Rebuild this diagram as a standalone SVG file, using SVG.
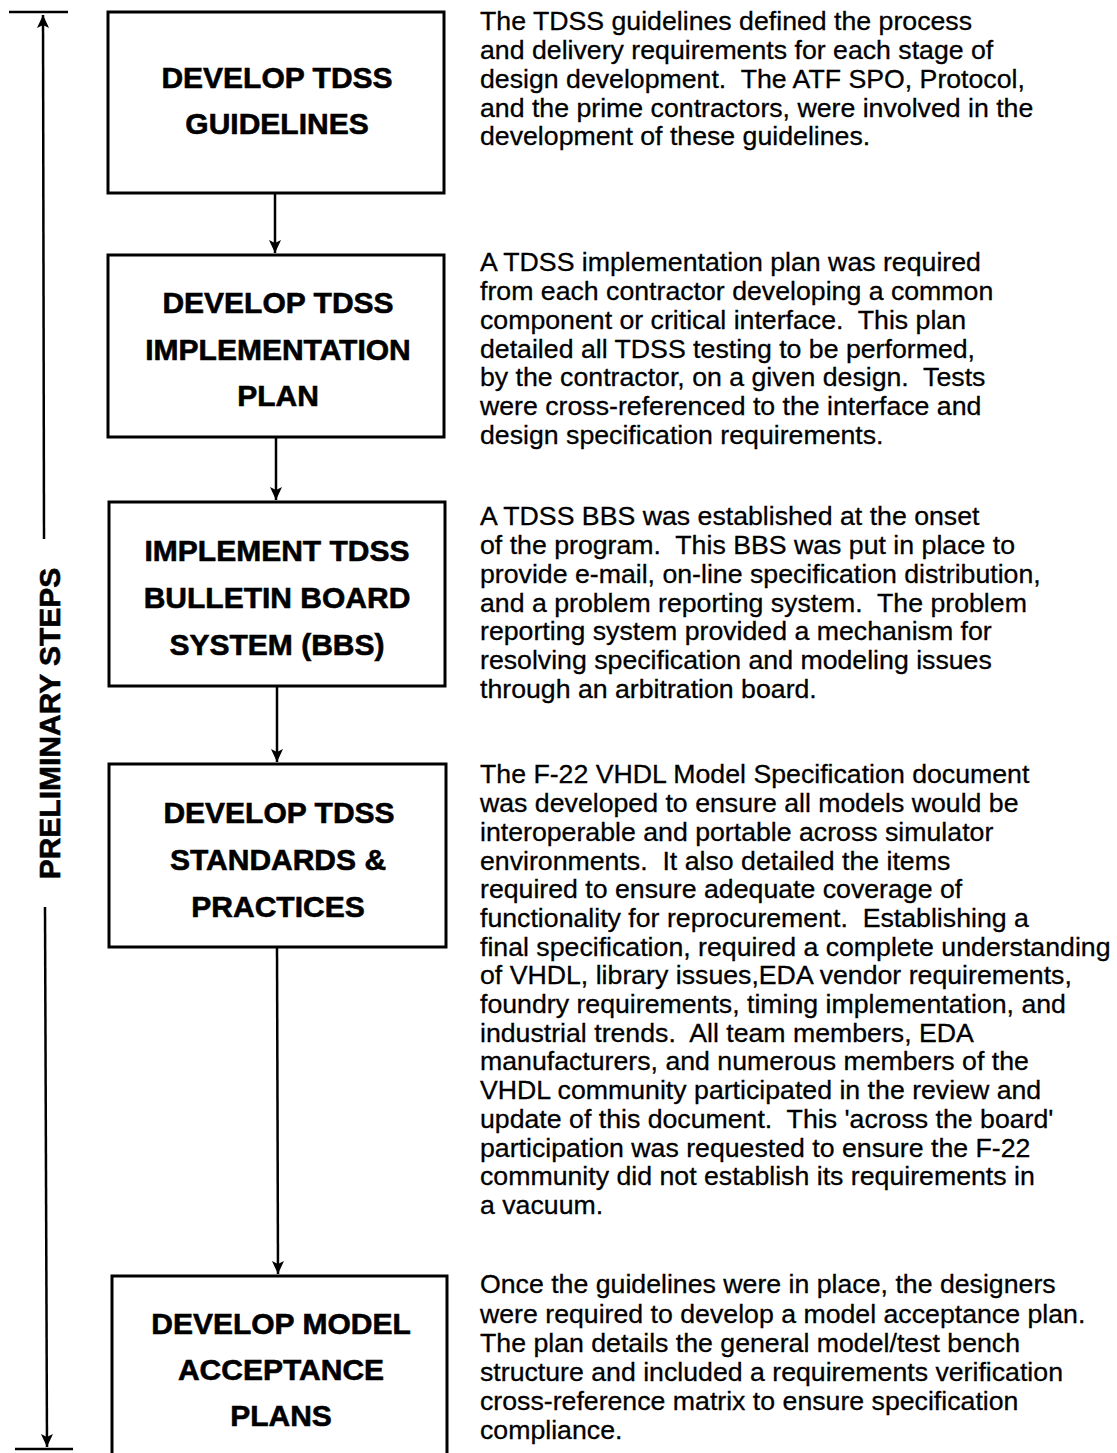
<svg xmlns="http://www.w3.org/2000/svg" width="1117" height="1453" viewBox="0 0 1117 1453">
<style>
.box{fill:#fff;stroke:#000;stroke-width:3}
.head{font-family:"Liberation Sans",Arial,sans-serif;font-weight:bold;font-size:30px;text-anchor:middle;fill:#000;stroke:#000;stroke-width:0.6}
.body{font-family:"Liberation Sans",Arial,sans-serif;font-size:26.7px;fill:#000;stroke:#000;stroke-width:0.3;white-space:pre}
.conn{stroke:#000;stroke-width:2.5;fill:none}
.label{font-family:"Liberation Sans",Arial,sans-serif;font-weight:bold;font-size:30px;text-anchor:middle;fill:#000;stroke:#000;stroke-width:0.6}
</style>
<defs>
<marker id="arr" markerUnits="userSpaceOnUse" markerWidth="14" markerHeight="14" viewBox="0 0 14 14" refX="13" refY="7" orient="auto">
<path d="M0,1 L13,7 L0,13 L3,7 Z" fill="#000"/>
</marker>
</defs>
<rect width="1117" height="1453" fill="#fff"/>

<g id="bracket">
<line x1="9" y1="12" x2="68" y2="12" class="conn" stroke-width="3"/>
<line x1="15" y1="1449" x2="73" y2="1449" class="conn" stroke-width="3"/>
<line x1="44" y1="539" x2="43" y2="15" class="conn" marker-end="url(#arr)"/>
<line x1="45" y1="907" x2="47" y2="1447" class="conn" marker-end="url(#arr)"/>
<text class="label" transform="translate(60,723.5) rotate(-90)">PRELIMINARY STEPS</text>
</g>

<g id="connectors">
<line x1="275" y1="193" x2="275" y2="253" class="conn" marker-end="url(#arr)"/>
<line x1="276" y1="437" x2="276" y2="500" class="conn" marker-end="url(#arr)"/>
<line x1="277" y1="686" x2="277" y2="762" class="conn" marker-end="url(#arr)"/>
<line x1="277" y1="947" x2="278" y2="1274" class="conn" marker-end="url(#arr)"/>
</g>

<g id="node1">
<rect class="box" x="108" y="12" width="336" height="181"/>
<text class="head" x="277" y="88">DEVELOP TDSS</text>
<text class="head" x="277" y="134">GUIDELINES</text>
</g>
<g id="node2">
<rect class="box" x="108" y="255" width="336" height="182"/>
<text class="head" x="278" y="313">DEVELOP TDSS</text>
<text class="head" x="278" y="360">IMPLEMENTATION</text>
<text class="head" x="278" y="406">PLAN</text>
</g>
<g id="node3">
<rect class="box" x="109" y="502" width="336" height="184"/>
<text class="head" x="277" y="561">IMPLEMENT TDSS</text>
<text class="head" x="277" y="608">BULLETIN BOARD</text>
<text class="head" x="277" y="655">SYSTEM (BBS)</text>
</g>
<g id="node4">
<rect class="box" x="109" y="764" width="337" height="183"/>
<text class="head" x="279" y="823">DEVELOP TDSS</text>
<text class="head" x="278" y="870">STANDARDS &amp;</text>
<text class="head" x="278" y="917">PRACTICES</text>
</g>
<g id="node5">
<rect class="box" x="112" y="1276" width="335" height="200"/>
<text class="head" x="281" y="1334">DEVELOP MODEL</text>
<text class="head" x="281" y="1380">ACCEPTANCE</text>
<text class="head" x="281" y="1426">PLANS</text>
</g>

<g id="desc1">
<text class="body" x="480" y="30.4"><tspan x="480">The TDSS guidelines defined the process</tspan><tspan x="480" dy="28.7">and delivery requirements for each stage of</tspan><tspan x="480" dy="28.7">design development.  The ATF SPO, Protocol,</tspan><tspan x="480" dy="28.7">and the prime contractors, were involved in the</tspan><tspan x="480" dy="28.7">development of these guidelines.</tspan></text>
</g>
<g id="desc2">
<text class="body" x="480" y="271.4"><tspan x="480">A TDSS implementation plan was required</tspan><tspan x="480" dy="28.7">from each contractor developing a common</tspan><tspan x="480" dy="28.7">component or critical interface.  This plan</tspan><tspan x="480" dy="28.7">detailed all TDSS testing to be performed,</tspan><tspan x="480" dy="28.7">by the contractor, on a given design.  Tests</tspan><tspan x="480" dy="28.7">were cross-referenced to the interface and</tspan><tspan x="480" dy="28.7">design specification requirements.</tspan></text>
</g>
<g id="desc3">
<text class="body" x="480" y="525.4"><tspan x="480">A TDSS BBS was established at the onset</tspan><tspan x="480" dy="28.7">of the program.  This BBS was put in place to</tspan><tspan x="480" dy="28.7">provide e-mail, on-line specification distribution,</tspan><tspan x="480" dy="28.7">and a problem reporting system.  The problem</tspan><tspan x="480" dy="28.7">reporting system provided a mechanism for</tspan><tspan x="480" dy="28.7">resolving specification and modeling issues</tspan><tspan x="480" dy="28.7">through an arbitration board.</tspan></text>
</g>
<g id="desc4">
<text class="body" x="480" y="783.4"><tspan x="480">The F-22 VHDL Model Specification document</tspan><tspan x="480" dy="28.7">was developed to ensure all models would be</tspan><tspan x="480" dy="28.7">interoperable and portable across simulator</tspan><tspan x="480" dy="28.7">environments.  It also detailed the items</tspan><tspan x="480" dy="28.7">required to ensure adequate coverage of</tspan><tspan x="480" dy="28.7">functionality for reprocurement.  Establishing a</tspan><tspan x="480" dy="28.7">final specification, required a complete understanding</tspan><tspan x="480" dy="28.7">of VHDL, library issues,EDA vendor requirements,</tspan><tspan x="480" dy="28.7">foundry requirements, timing implementation, and</tspan><tspan x="480" dy="28.7">industrial trends.  All team members, EDA</tspan><tspan x="480" dy="28.7">manufacturers, and numerous members of the</tspan><tspan x="480" dy="28.7">VHDL community participated in the review and</tspan><tspan x="480" dy="28.7">update of this document.  This 'across the board'</tspan><tspan x="480" dy="28.7">participation was requested to ensure the F-22</tspan><tspan x="480" dy="28.7">community did not establish its requirements in</tspan><tspan x="480" dy="28.7">a vacuum.</tspan></text>
</g>
<g id="desc5">
<text class="body" x="480" y="1293.4"><tspan x="480">Once the guidelines were in place, the designers</tspan><tspan x="480" dy="29.2">were required to develop a model acceptance plan.</tspan><tspan x="480" dy="29.2">The plan details the general model/test bench</tspan><tspan x="480" dy="29.2">structure and included a requirements verification</tspan><tspan x="480" dy="29.2">cross-reference matrix to ensure specification</tspan><tspan x="480" dy="29.2">compliance.</tspan></text>
</g>
</svg>
